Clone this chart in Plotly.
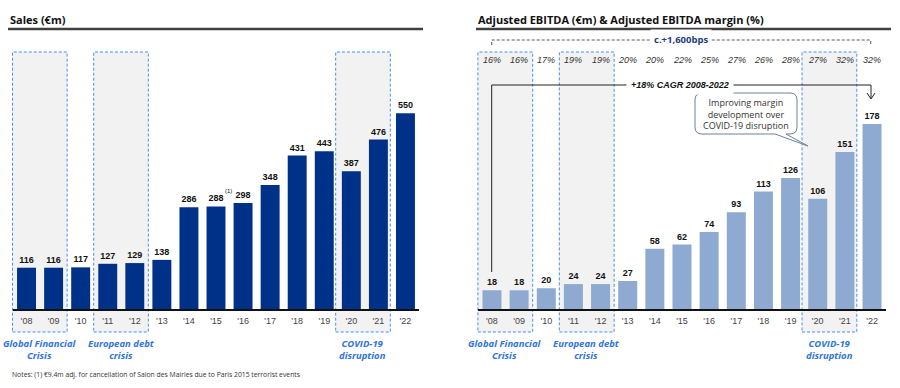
import plotly.graph_objects as go

# ---------------- data ----------------
years = ["'08", "'09", "'10", "'11", "'12", "'13", "'14", "'15", "'16", "'17", "'18", "'19", "'20", "'21", "'22"]
sales = [116, 116, 117, 127, 129, 138, 286, 288, 298, 348, 431, 443, 387, 476, 550]
ebitda = [18, 18, 20, 24, 24, 27, 58, 62, 74, 93, 113, 126, 106, 151, 178]
margin = [16, 16, 17, 19, 19, 20, 20, 22, 25, 27, 26, 28, 27, 32, 32]
crisis_spans = [(0, 1), (3, 4), (12, 13)]
crisis_labels = ["Global Financial<br>Crisis", "European debt<br>crisis", "COVID-19<br>disruption"]

W, H = 900, 388
def px(x): return x / W
def py(y): return 1 - y / H

# panel geometry (pixels)
L_X0, L_X1 = 13, 419
R_X0, R_X1 = 478.4, 885.6
AX_Y, TOP_Y, BOX_BOT = 309, 52, 332
L_SCALE = 0.356   # px per €m (sales)
R_SCALE = 1.039   # px per €m (EBITDA)

def cat_px(i, x0, x1, off=0.0):
    step = (x1 - x0) / len(years)
    return x0 + (i + 0.5 + off) * step

FONT = "Arial, Liberation Sans, sans-serif"
TFONT = "Open Sans, sans-serif"
BLUE = "#2f74dc"
DASHBLUE = "#4b8ff0"

fig = go.Figure()
fig.add_trace(go.Bar(x=years, y=sales, xaxis="x", yaxis="y", marker=dict(color="#003189", line=dict(width=0)),
                     text=[str(v) for v in sales], textposition="outside", cliponaxis=False,
                     textfont=dict(family=FONT, size=9, color="#111111"), hoverinfo="skip"))
fig.add_trace(go.Bar(x=years, y=ebitda, xaxis="x2", yaxis="y2", marker=dict(color="#8eaad0", line=dict(width=0)),
                     text=[str(v) for v in ebitda], textposition="outside", cliponaxis=False,
                     textfont=dict(family=FONT, size=9, color="#111111"), hoverinfo="skip"))
for tr in fig.data:
    tr.texttemplate = "<b>%{text}</b>"

shapes = []
annotations = []

def ann(**kw):
    kw.setdefault("xanchor", "center")
    kw.setdefault("yanchor", "middle")
    kw.setdefault("showarrow", False)
    annotations.append(kw)

# crisis boxes
for (x0, x1) in [(L_X0, L_X1), (R_X0, R_X1)]:
    for k, (a, b) in enumerate(crisis_spans):
        off = -0.06 if k == 2 else 0.0
        xa = cat_px(a, x0, x1, -0.5 + off) - 0.5
        xb = cat_px(b, x0, x1, 0.5 + off)
        shapes.append(dict(type="rect", xref="paper", yref="paper", x0=px(xa), x1=px(xb),
                           y0=py(BOX_BOT), y1=py(TOP_Y), fillcolor="#f2f2f2",
                           line=dict(color=DASHBLUE, width=1, dash="3px,2px"), layer="below"))
        ann(xref="paper", yref="paper", x=px((xa + xb) / 2), y=py(349.5),
            text="<b><i>" + crisis_labels[k].replace("<br>", "</i></b><br><b><i>") + "</i></b>",
            font=dict(family=TFONT, size=9.5, color=BLUE), align="center")

# titles and underlines
ann(xref="paper", yref="paper", x=px(8), y=py(19), text="<b>Sales (€m)</b>", xanchor="left",
    font=dict(family=TFONT, size=11, color="#111111"))
ann(xref="paper", yref="paper", x=px(476), y=py(19),
    text="<b>Adjusted EBITDA (€m) & Adjusted EBITDA margin (%)</b>", xanchor="left",
    font=dict(family=TFONT, size=11, color="#111111"))
shapes.append(dict(type="line", xref="paper", yref="paper", x0=px(8), x1=px(423), y0=py(29), y1=py(29),
                   line=dict(color="#404040", width=2.5)))
shapes.append(dict(type="line", xref="paper", yref="paper", x0=px(476), x1=px(891), y0=py(29), y1=py(29),
                   line=dict(color="#404040", width=2.5)))

# footnote marker on '15
ann(xref="x", yref="y", x="'15", y=sales[7], text="(1)", xshift=12, yshift=15,
    font=dict(family=FONT, size=6, color="#111111"))
ann(xref="paper", yref="paper", x=px(10), y=py(374), xanchor="left",
    text="Notes: (1) €9.4m adj. for cancellation of Salon des Mairies due to Paris 2015 terrorist events",
    font=dict(family=TFONT, size=6.8, color="#333333"))

# margin row
for i, m in enumerate(margin):
    ann(xref="x2", yref="paper", x=years[i], y=py(60), text=f"<i>{m}%</i>",
        font=dict(family=FONT, size=9, color="#333333"))

# c.+1,600bps bracket
bx0, bx1 = 491.7, 870.7
shapes.append(dict(type="path", xref="paper", yref="paper",
                   path=f"M {px(bx0)} {py(45)} L {px(bx0)} {py(40)} L {px(bx1)} {py(40)} L {px(bx1)} {py(45)}",
                   line=dict(color="#555555", width=1, dash="3px,2px")))
ann(xref="paper", yref="paper", x=px(681), y=py(40), text="<b>c.+1,600bps</b>", bgcolor="white", borderpad=3,
    font=dict(family=TFONT, size=9.5, color="#1f3b82"))

# CAGR bracket
shapes.append(dict(type="path", xref="paper", yref="paper",
                   path=f"M {px(491.7)} {py(272)} L {px(491.7)} {py(85)} L {px(871)} {py(85)} L {px(871)} {py(98)}",
                   line=dict(color="#222222", width=1)))
shapes.append(dict(type="path", xref="paper", yref="paper",
                   path=f"M {px(867)} {py(93)} L {px(871)} {py(99)} L {px(875)} {py(93)}",
                   line=dict(color="#222222", width=1)))
ann(xref="paper", yref="paper", x=px(680), y=py(85), text="<b><i>+18% CAGR 2008-2022</i></b>",
    bgcolor="white", borderpad=4, font=dict(family=FONT, size=9, color="#111111"))

# callout
cx0, cx1, cy0, cy1, r = 695, 797, 93, 134, 7
tail = [(775, cy1), (808, 146), (786, cy1)]
path = (f"M {px(cx0 + r)} {py(cy0)} L {px(cx1 - r)} {py(cy0)} "
        f"Q {px(cx1)} {py(cy0)} {px(cx1)} {py(cy0 + r)} L {px(cx1)} {py(cy1 - r)} "
        f"Q {px(cx1)} {py(cy1)} {px(cx1 - r)} {py(cy1)} L {px(tail[2][0])} {py(tail[2][1])} "
        f"L {px(tail[1][0])} {py(tail[1][1])} L {px(tail[0][0])} {py(tail[0][1])} "
        f"L {px(cx0 + r)} {py(cy1)} Q {px(cx0)} {py(cy1)} {px(cx0)} {py(cy1 - r)} "
        f"L {px(cx0)} {py(cy0 + r)} Q {px(cx0)} {py(cy0)} {px(cx0 + r)} {py(cy0)} Z")
shapes.append(dict(type="path", xref="paper", yref="paper", path=path, fillcolor="white",
                   line=dict(color="#6f819b", width=1)))
ann(xref="paper", yref="paper", x=px(746), y=py(113.5),
    text="Improving margin<br>development over<br>COVID-19 disruption",
    align="center", font=dict(family=TFONT, size=9, color="#333333"))

axis_common = dict(type="category", range=[-0.5, len(years) - 0.5], showline=True, linecolor="#111111",
                   linewidth=1.5, ticks="", showgrid=False, zeroline=False, fixedrange=True,
                   tickfont=dict(family=FONT, size=9, color="#444444"), ticklabelstandoff=2)
yd = [py(AX_Y), py(TOP_Y)]
fig.update_layout(
    width=W, height=H, margin=dict(l=0, r=0, t=0, b=0), paper_bgcolor="white", plot_bgcolor="rgba(0,0,0,0)",
    showlegend=False, bargap=0.3,
    xaxis=dict(domain=[px(L_X0), px(L_X1)], anchor="y", **axis_common),
    yaxis=dict(domain=yd, range=[0, (AX_Y - TOP_Y) / L_SCALE], visible=False, fixedrange=True),
    xaxis2=dict(domain=[px(R_X0), px(R_X1)], anchor="y2", **axis_common),
    yaxis2=dict(domain=yd, range=[0, (AX_Y - TOP_Y) / R_SCALE], visible=False, fixedrange=True),
    shapes=shapes, annotations=annotations,
)
fig.write_html("out.html", config={"displayModeBar": False},
               post_script="document.body.style.margin='0';document.body.style.padding='0';")
